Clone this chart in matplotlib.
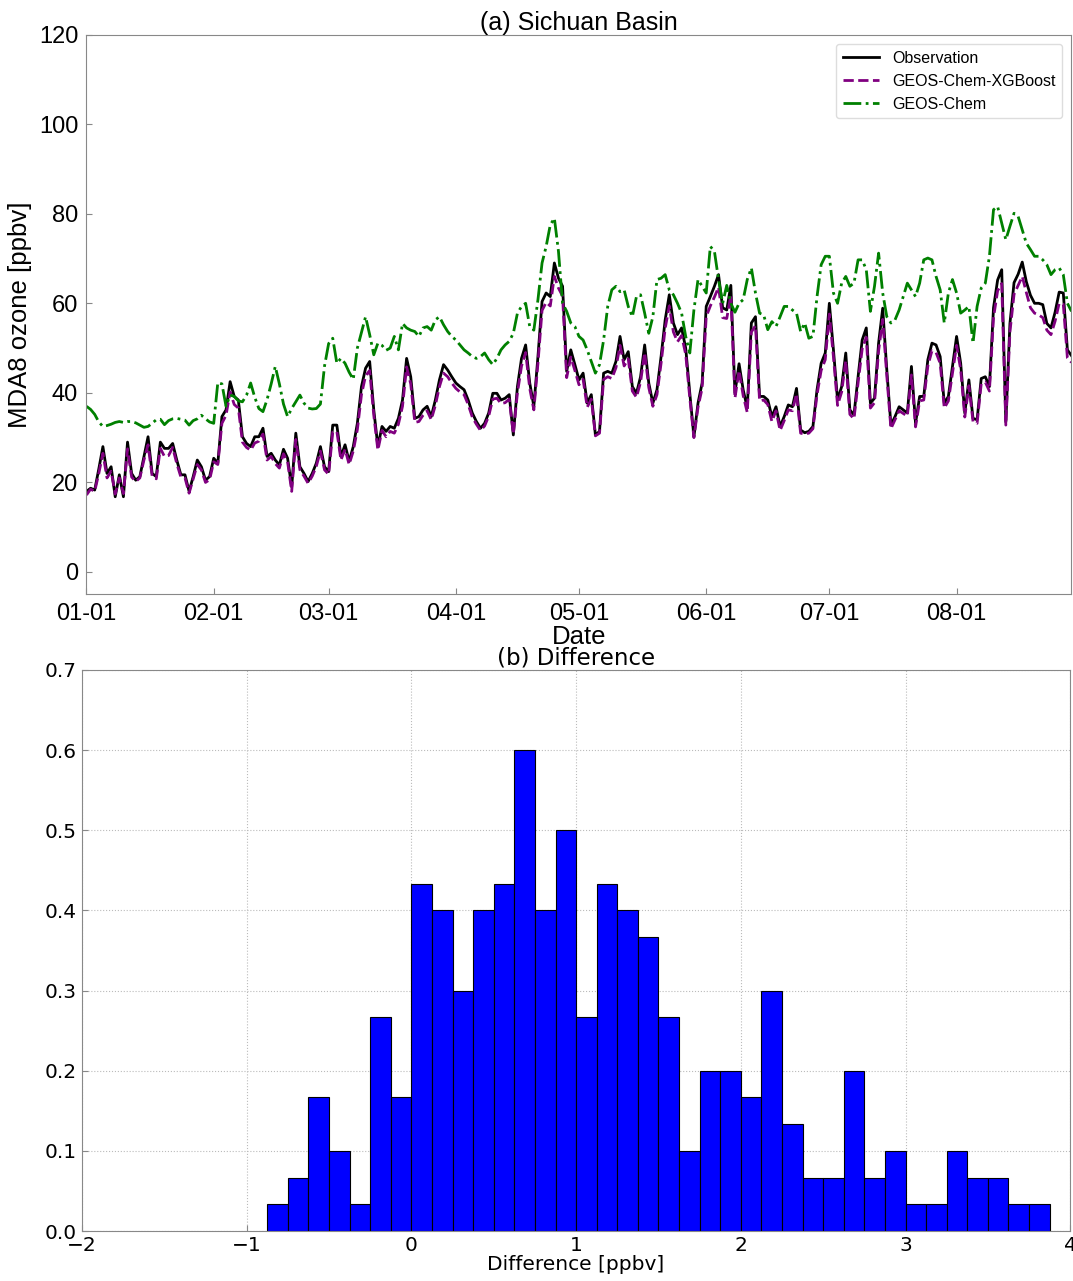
import numpy as np
import pandas as pd
import matplotlib
matplotlib.use('Agg')
import matplotlib.pyplot as plt
import matplotlib.dates as mdates

# daily MDA8 ozone, 2019-01-01 .. 2019-08-29 (ppbv)
dates = pd.date_range('2019-01-01', '2019-08-29', freq='D')

obs = [
    18.0, 18.7, 18.3, 23.0, 28.0, 22.0, 23.5, 16.8, 21.7, 16.8,
    29.0, 22.0, 20.5, 21.3, 25.8, 30.2, 22.0, 21.3, 29.0, 27.6,
    27.6, 28.7, 25.0, 21.7, 21.7, 18.0, 21.3, 25.0, 23.5, 20.5,
    21.3, 25.4, 24.3, 34.7, 36.2, 42.5, 39.2, 38.4, 30.2, 28.7,
    28.0, 30.2, 30.2, 32.1, 25.8, 26.5, 25.0, 23.9, 27.4, 25.4,
    19.0, 31.0, 23.5, 22.0, 20.2, 22.0, 24.3, 28.0, 23.5, 22.4,
    32.8, 32.8, 25.8, 28.4, 24.7, 28.0, 33.2, 41.4, 45.5, 47.0,
    36.2, 28.0, 32.5, 31.4, 32.5, 32.1, 34.3, 38.4, 47.7, 43.6,
    34.3, 34.7, 36.2, 37.0, 34.7, 38.4, 42.9, 46.3, 45.1, 43.6,
    42.2, 41.4, 40.7, 38.4, 35.5, 33.6, 32.1, 33.2, 35.5, 39.9,
    39.9, 38.4, 38.8, 39.6, 30.6, 41.4, 47.7, 50.7, 42.2, 37.0,
    48.1, 60.4, 62.3, 61.5, 69.0, 65.6, 63.8, 44.8, 49.6, 46.3,
    42.9, 44.4, 37.7, 39.6, 30.6, 31.4, 44.4, 44.8, 44.4, 47.0,
    52.6, 47.4, 49.2, 41.4, 39.9, 43.6, 50.7, 42.2, 37.7, 40.7,
    48.1, 56.3, 61.9, 55.6, 53.0, 54.5, 50.0, 39.9, 30.2, 37.7,
    42.2, 59.3, 61.5, 63.8, 66.4, 59.0, 58.5, 64.0, 40.0, 46.5,
    40.7, 36.6, 55.6, 57.0, 39.2, 39.2, 38.4, 34.7, 36.9, 32.5,
    34.7, 37.3, 36.9, 41.0, 31.7, 31.1, 31.4, 32.5, 40.7, 46.6,
    48.9, 60.0, 49.6, 38.4, 41.4, 48.9, 36.2, 35.1, 43.6, 51.8,
    54.5, 37.7, 38.8, 51.1, 58.9, 45.1, 32.8, 34.7, 36.9, 36.2,
    35.5, 45.9, 33.2, 39.2, 39.2, 47.4, 51.1, 50.7, 48.1, 37.7,
    39.2, 45.9, 52.6, 46.6, 35.5, 42.9, 34.3, 34.0, 43.2, 43.6,
    41.4, 59.0, 65.2, 67.5, 33.5, 55.5, 64.6, 66.5, 69.2, 64.8,
    61.8, 60.0, 60.0, 59.7, 55.5, 54.5, 58.0, 62.5, 62.3, 49.6,
    48.3,
]

xgb = [
    17.2, 18.5, 18.0, 22.0, 26.5, 21.0, 22.5, 17.4, 21.0, 17.5,
    27.5, 21.2, 20.2, 21.0, 25.0, 28.4, 21.4, 20.8, 27.6, 25.8,
    26.0, 27.8, 24.2, 21.2, 21.0, 17.6, 20.8, 24.0, 22.8, 20.0,
    20.6, 24.6, 24.0, 33.2, 35.0, 40.2, 37.4, 36.6, 29.0, 27.8,
    27.2, 28.8, 29.2, 30.8, 25.0, 25.8, 24.2, 23.2, 26.4, 24.6,
    18.0, 29.6, 22.8, 21.4, 19.8, 21.4, 23.6, 27.0, 22.8, 21.8,
    31.2, 31.4, 25.0, 27.4, 24.0, 27.0, 31.8, 39.6, 43.8, 45.0,
    35.0, 27.2, 31.6, 30.2, 31.4, 31.0, 33.0, 37.0, 45.8, 42.0,
    33.4, 33.6, 35.0, 36.0, 34.0, 37.2, 41.4, 44.4, 43.6, 42.2,
    41.0, 40.2, 39.6, 37.4, 34.6, 33.0, 31.6, 32.6, 34.8, 38.6,
    38.8, 37.6, 37.8, 38.6, 30.8, 40.0, 46.0, 49.0, 41.0, 36.2,
    46.6, 58.4, 60.2, 59.4, 66.0, 63.4, 61.6, 43.4, 48.0, 45.0,
    41.8, 43.0, 36.8, 38.6, 30.4, 31.0, 43.0, 43.6, 43.2, 45.6,
    50.6, 46.0, 47.6, 40.4, 39.0, 42.4, 49.0, 41.2, 37.0, 39.6,
    46.6, 54.4, 59.4, 53.6, 51.4, 52.8, 48.6, 38.8, 30.0, 36.8,
    41.0, 57.0, 59.4, 61.4, 63.6, 56.8, 56.6, 61.8, 38.8, 45.0,
    39.4, 35.6, 53.6, 55.0, 38.2, 38.4, 37.4, 33.6, 36.0, 31.6,
    33.8, 36.2, 36.0, 39.8, 31.0, 30.8, 31.0, 32.0, 39.6, 45.0,
    47.4, 57.6, 48.0, 37.2, 40.2, 47.2, 35.2, 34.2, 42.2, 49.8,
    52.4, 36.6, 37.8, 49.4, 56.4, 43.8, 32.0, 34.0, 36.0, 35.4,
    34.8, 44.0, 32.4, 38.2, 38.4, 46.0, 49.4, 49.0, 46.6, 36.6,
    38.2, 44.4, 50.6, 45.2, 34.6, 41.6, 33.6, 33.2, 42.0, 42.4,
    40.4, 56.8, 62.8, 64.4, 32.8, 53.6, 62.0, 64.0, 66.0, 62.4,
    59.0, 57.8, 57.4, 56.8, 54.0, 53.0, 56.0, 60.0, 59.8, 47.8,
    46.8,
]

geos = [
    37.0, 36.3, 35.2, 33.5, 32.5, 32.7, 33.0, 33.4, 33.6, 33.4,
    33.6, 33.6, 33.3, 32.8, 32.3, 32.5, 33.2, 34.0, 34.1, 32.9,
    33.8, 34.2, 34.3, 34.1, 33.9, 32.8, 33.8, 34.2, 35.0, 34.2,
    33.5, 33.2, 42.3, 42.0, 37.0, 39.5, 39.2, 38.2, 38.0, 39.5,
    42.2, 39.0, 36.5, 35.8, 38.5, 42.0, 45.9, 42.0, 37.5, 34.7,
    36.5, 38.0, 39.5, 37.7, 36.6, 36.4, 36.5, 37.5, 46.0, 51.0,
    52.2, 46.6, 47.7, 46.6, 44.6, 43.0, 50.0, 53.5, 57.0, 53.0,
    48.5, 51.1, 50.6, 49.5, 50.0, 52.6, 49.6, 55.5, 54.5, 54.0,
    53.7, 52.6, 54.5, 54.8, 54.0, 56.3, 57.0, 55.2, 53.7, 52.6,
    51.8, 50.7, 49.6, 48.9, 48.1, 47.7, 48.1, 48.9, 47.4, 46.3,
    47.7, 49.6, 50.7, 51.5, 53.3, 57.8, 59.3, 60.0, 54.8, 54.0,
    60.8, 69.0, 72.7, 77.5, 79.0, 71.6, 60.0, 58.2, 55.6, 54.8,
    52.6, 51.8, 49.6, 47.0, 44.4, 46.3, 51.8, 59.3, 63.0, 63.8,
    62.6, 63.0, 59.3, 57.0, 61.5, 61.9, 57.8, 53.3, 57.0, 65.3,
    65.6, 66.4, 63.0, 61.9, 60.0, 57.8, 52.6, 48.9, 58.5, 65.3,
    63.8, 62.3, 72.7, 71.6, 65.3, 60.0, 64.0, 60.0, 58.0, 60.0,
    60.8, 65.3, 67.9, 62.3, 57.8, 57.4, 54.1, 55.9, 54.8, 57.0,
    59.3, 59.3, 58.5, 57.8, 53.7, 55.6, 52.2, 52.6, 61.5, 68.6,
    70.5, 70.5, 62.3, 60.0, 64.5, 66.0, 63.8, 64.5, 69.7, 69.7,
    67.5, 58.2, 63.8, 71.2, 62.3, 57.0, 55.6, 56.3, 58.5, 61.5,
    64.5, 63.0, 61.5, 64.5, 69.7, 70.1, 69.7, 66.0, 63.0, 55.6,
    62.3, 65.3, 62.3, 57.8, 58.5, 59.3, 51.1, 59.3, 63.4, 64.5,
    70.5, 80.9, 81.6, 77.9, 74.2, 77.2, 80.1, 79.4, 76.4, 73.4,
    72.0, 70.5, 70.5, 69.7, 68.6, 66.4, 67.5, 67.9, 66.4, 60.0,
    58.2,
]

# histogram of the difference (ppbv): bin edges and number of days per bin
bin_edges = np.arange(-0.875, 3.876, 0.125)
bin_counts = [1, 2, 5, 3, 1, 8, 5, 13, 12, 9,
              12, 13, 18, 12, 15, 8, 13, 12, 11, 8,
              3, 6, 6, 5, 9, 4, 2, 2, 6, 2,
              3, 1, 1, 3, 2, 2, 1, 1]

fig = plt.figure(figsize=(10.73, 12.81), dpi=100)
sans = ['Liberation Sans', 'DejaVu Sans']

# (a) time series
ax1 = fig.add_axes([0.0806, 0.536, 0.918, 0.437])
ax1.plot(dates, obs, color='black', lw=2, label='Observation')
ax1.plot(dates, xgb, color='purple', lw=2, ls='--', label='GEOS-Chem-XGBoost')
ax1.plot(dates, geos, color='green', lw=2, ls='-.', label='GEOS-Chem')
ax1.set_xlim(dates[0], dates[-1])
ax1.set_ylim(-5, 120)
ax1.set_yticks(range(0, 121, 20))
ax1.xaxis.set_major_locator(mdates.MonthLocator())
ax1.xaxis.set_major_formatter(mdates.DateFormatter('%m-%d'))
ax1.tick_params(direction='in', length=4, color='#888888', labelsize=17, pad=6)
for lab in ax1.get_xticklabels() + ax1.get_yticklabels():
    lab.set_family(sans)
ax1.set_ylabel('MDA8 ozone [ppbv]', fontsize=18.5, family=sans, labelpad=5)
ax1.set_xlabel('Date', fontsize=18.5, family=sans, labelpad=0)
ax1.set_title('(a) Sichuan Basin', fontsize=18, family=sans, pad=2)
for s in ax1.spines.values():
    s.set_color('#888888')
leg = ax1.legend(loc='upper right', prop={'family': sans, 'size': 11.5},
                 framealpha=1, edgecolor='#dddddd', handlelength=2.3,
                 borderaxespad=0.6)

# (b) histogram of differences
ax2 = fig.add_axes([0.0764, 0.039, 0.921, 0.438])
ax2.hist(bin_edges[:-1], bins=bin_edges, weights=bin_counts, density=True,
         color='#0000ff', edgecolor='black', linewidth=0.8, zorder=2)
ax2.set_xlim(-2, 4)
ax2.set_ylim(0, 0.7)
ax2.set_yticks(np.arange(0, 0.71, 0.1))
ax2.grid(True, ls=':', color='#bbbbbb', lw=0.8, zorder=0)
ax2.set_axisbelow(True)
ax2.tick_params(direction='in', length=4, color='#888888', labelsize=14.5)
ax2.set_xlabel('Difference [ppbv]', fontsize=14.5, labelpad=0)
ax2.set_title('(b) Difference', fontsize=16.5, pad=2)
for s in ax2.spines.values():
    s.set_color('#888888')

fig.savefig('out.png', dpi=100)
